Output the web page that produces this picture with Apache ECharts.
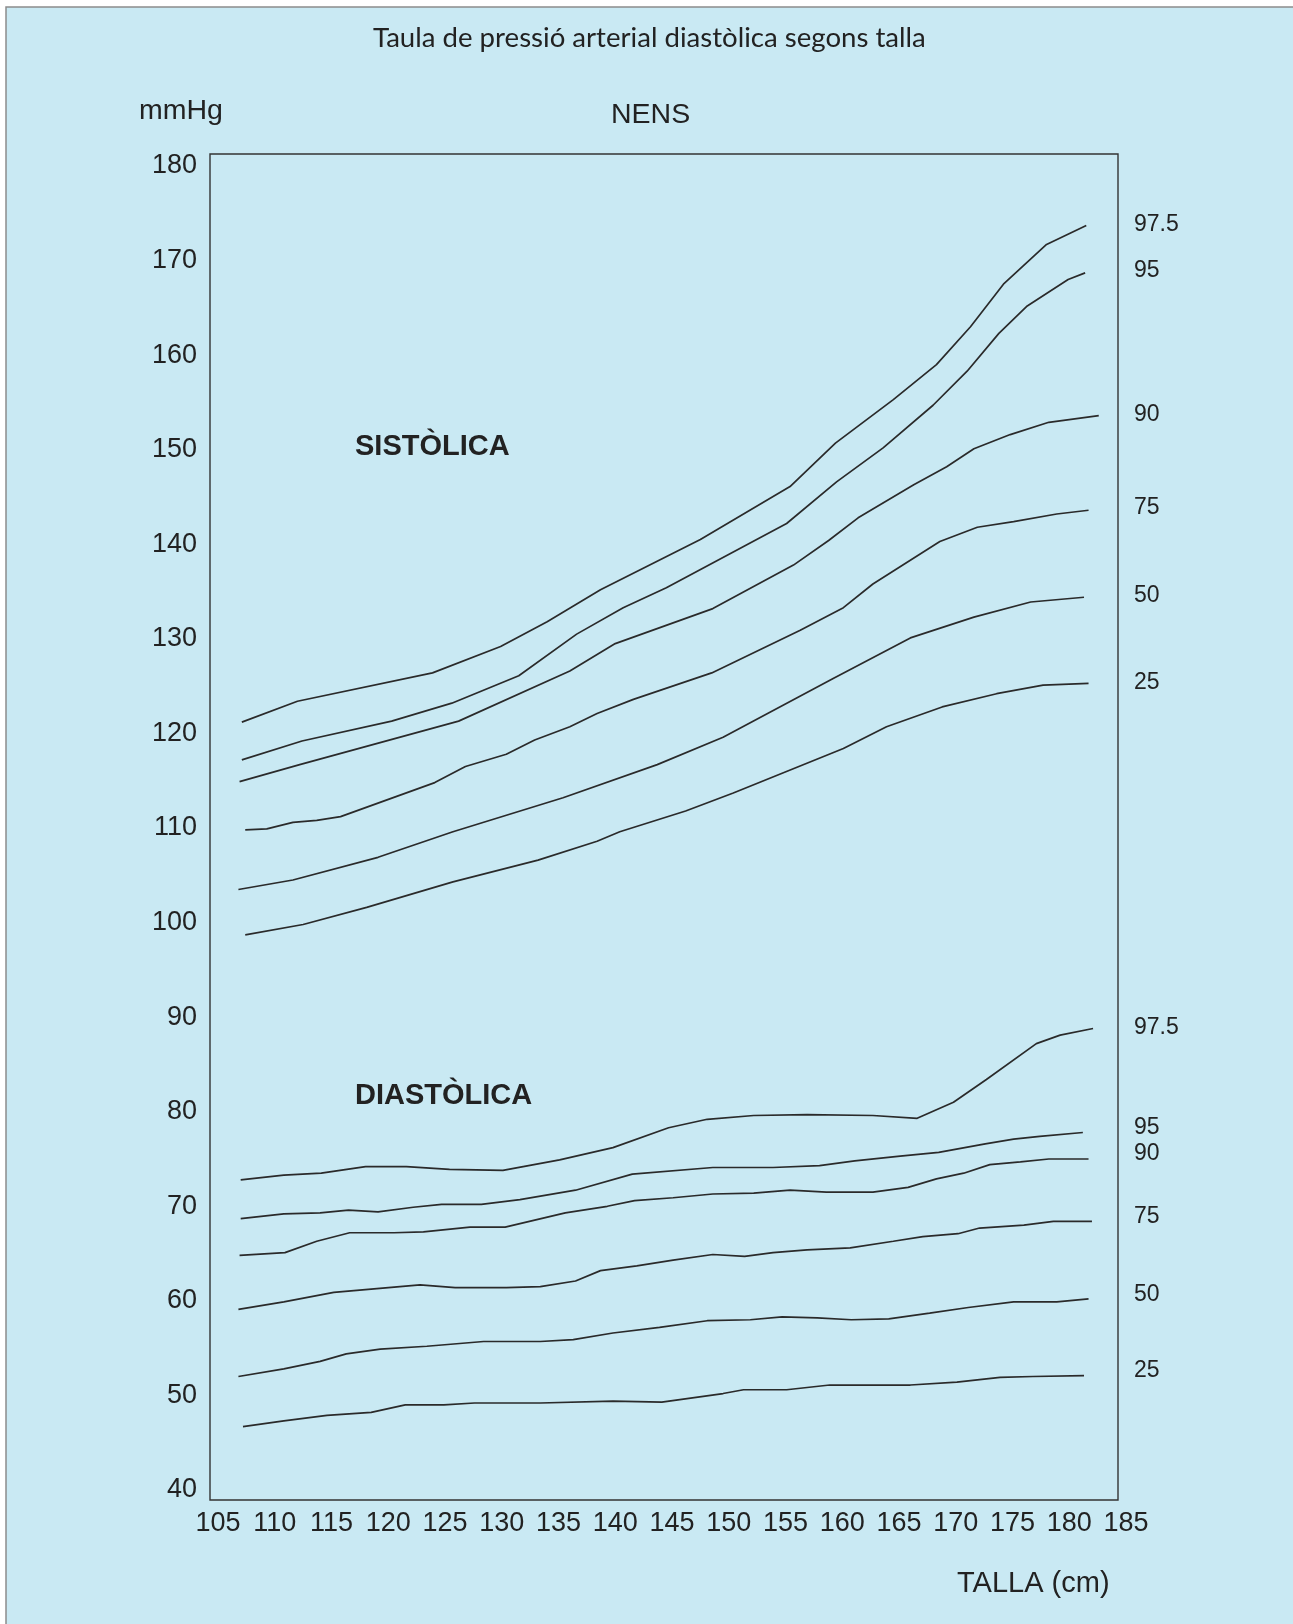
<!DOCTYPE html>
<html><head><meta charset="utf-8">
<script src="https://cdn.jsdelivr.net/npm/echarts@6/dist/echarts.min.js"></script>
<style>html,body{margin:0;padding:0;background:#fff}#c{width:1293px;height:1624px}</style>
</head><body><div id="c"></div>
<script>
// ---- DATA (height in cm, pressure in mmHg) ----
const percentiles = ['97.5', '95', '90', '75', '50', '25'];
const xTicks = [105, 110, 115, 120, 125, 130, 135, 140, 145, 150, 155, 160, 165, 170, 175, 180, 185];
const yTicks = [40, 50, 60, 70, 80, 90, 100, 110, 120, 130, 140, 150, 160, 170, 180];

const sys_975 = [[107.1,121.2],[112.0,123.4],[123.9,126.4],[129.9,129.2],[134.0,131.8],[138.7,135.2],[147.5,140.5],[155.4,146.1],[159.4,150.7],[164.5,155.3],[168.3,159.0],[171.3,163.0],[174.2,167.5],[178.0,171.7],[181.5,173.7]];
const sys_95 = [[107.1,117.2],[112.4,119.2],[120.3,121.3],[125.6,123.2],[131.5,126.1],[136.6,130.5],[140.7,133.3],[144.5,135.4],[155.1,142.2],[159.5,146.6],[163.6,150.2],[168.0,154.7],[171.0,158.3],[173.8,162.3],[176.3,165.2],[179.9,168.0],[181.4,168.7]];
const sys_90 = [[106.9,114.9],[112.2,116.7],[126.2,121.3],[136.0,126.6],[140.0,129.5],[148.6,133.2],[155.7,137.8],[158.8,140.4],[161.4,142.8],[166.3,146.3],[169.2,148.2],[171.6,150.1],[174.8,151.6],[178.2,152.9],[182.6,153.6]];
const sys_75 = [[107.4,109.8],[109.3,109.9],[111.6,110.6],[113.7,110.8],[115.8,111.2],[124.1,114.8],[126.8,116.5],[130.4,117.8],[132.9,119.3],[136.0,120.7],[138.4,122.1],[141.6,123.6],[148.5,126.4],[156.3,130.9],[160.1,133.3],[162.7,135.8],[168.6,140.3],[171.9,141.8],[175.1,142.4],[178.9,143.2],[181.7,143.6]];
const sys_50 = [[106.8,103.5],[111.6,104.5],[119.1,106.9],[125.7,109.6],[135.4,113.2],[143.7,116.7],[149.5,119.6],[159.2,125.8],[166.0,130.1],[171.6,132.3],[176.6,133.9],[181.3,134.4]];
const sys_25 = [[107.4,98.7],[112.5,99.8],[118.1,101.6],[125.7,104.3],[133.2,106.6],[138.4,108.6],[140.4,109.6],[146.2,111.8],[150.4,113.7],[160.1,118.4],[163.9,120.7],[168.8,122.8],[173.6,124.2],[177.7,125.1],[181.7,125.3]];

const dia_975 = [[107.0,72.8],[110.8,73.3],[114.1,73.5],[118.0,74.2],[121.6,74.2],[125.4,73.9],[130.1,73.8],[135.1,74.9],[139.8,76.2],[144.7,78.3],[148.1,79.2],[152.2,79.6],[156.9,79.7],[162.7,79.6],[166.6,79.3],[169.8,81.0],[172.7,83.4],[177.1,87.2],[179.2,88.1],[182.1,88.8]];
const dia_95 = [[107.0,68.7],[110.8,69.2],[114.0,69.3],[116.5,69.6],[119.1,69.4],[122.2,69.9],[124.7,70.2],[128.2,70.2],[131.6,70.7],[136.5,71.7],[141.5,73.4],[148.6,74.1],[153.9,74.1],[158.0,74.3],[161.1,74.8],[165.1,75.3],[168.5,75.7],[172.6,76.6],[175.1,77.1],[177.4,77.4],[181.2,77.8]];
const dia_90 = [[106.9,64.8],[110.9,65.1],[113.7,66.3],[116.6,67.2],[120.5,67.2],[123.1,67.3],[127.2,67.8],[130.3,67.8],[135.6,69.3],[139.3,70.0],[141.7,70.6],[145.1,70.9],[148.6,71.3],[152.2,71.4],[155.4,71.7],[158.6,71.5],[162.7,71.5],[165.8,72.0],[168.3,72.9],[170.7,73.5],[173.0,74.4],[175.7,74.7],[178.2,75.0],[181.7,75.0]];
const dia_75 = [[106.8,59.1],[110.8,59.9],[115.2,60.9],[119.0,61.3],[122.8,61.7],[125.9,61.4],[130.4,61.4],[133.4,61.5],[136.5,62.1],[138.7,63.2],[141.9,63.7],[145.1,64.3],[148.6,64.9],[151.4,64.7],[153.9,65.1],[156.9,65.4],[160.7,65.6],[164.5,66.3],[167.1,66.8],[170.2,67.1],[172.1,67.7],[176.0,68.0],[178.6,68.4],[182.0,68.4]];
const dia_50 = [[106.8,52.0],[110.8,52.8],[114.0,53.6],[116.3,54.4],[119.3,54.9],[123.4,55.2],[128.4,55.7],[133.4,55.7],[136.3,55.9],[139.8,56.6],[143.9,57.2],[148.1,57.9],[151.9,58.0],[154.7,58.3],[157.8,58.2],[160.8,58.0],[164.1,58.1],[167.7,58.7],[171.1,59.3],[175.1,59.9],[178.9,59.9],[181.7,60.2]];
const dia_25 = [[107.2,46.7],[110.8,47.3],[114.6,47.9],[118.5,48.2],[121.5,49.0],[124.9,49.0],[127.6,49.2],[133.4,49.2],[139.8,49.4],[144.1,49.3],[149.5,50.2],[151.3,50.6],[155.1,50.6],[158.9,51.1],[166.0,51.1],[170.1,51.4],[173.9,51.9],[176.8,52.0],[181.3,52.1]];

const sysCurves = [sys_975, sys_95, sys_90, sys_75, sys_50, sys_25];
const diaCurves = [dia_975, dia_95, dia_90, dia_75, dia_50, dia_25];

// ---- STYLE ----
const BG = '#c9e9f3';
const INK = '#222222';
const LINE = '#2a2a2a';
const SANS = "'Liberation Sans', Arial, Helvetica, sans-serif";
const HUMANIST = "Lato, 'Open Sans', sans-serif";
const LABEL_COL_X = 1134;
const sysDy = [-1, -2, -1, -3, -2, -1];
const diaDy = [-1, -5, -5, -5, -4, -5];

const chart = echarts.init(document.getElementById('c'), null, {renderer: 'canvas'});

function mkSeries(group, curves) {
  return curves.map((d, i) => ({
    type: 'line',
    name: group + ' ' + percentiles[i],
    xAxisIndex: 1, yAxisIndex: 1,
    data: d,
    symbol: 'none', showSymbol: false,
    clip: false, silent: true, animation: false,
    lineStyle: {color: LINE, width: 1.7},
    endLabel: {
      show: true, distance: 0,
      formatter: () => percentiles[i],
      color: INK, fontFamily: SANS, fontSize: 23, align: 'left', verticalAlign: 'middle'
    }
  }));
}
const series = mkSeries('Sistòlica', sysCurves).concat(mkSeries('Diastòlica', diaCurves));

function txt(text, left, top, size, weight, family) {
  return {text, left, top, padding: 0,
    textStyle: {color: INK, fontSize: size, fontWeight: weight || 'normal', fontFamily: family || SANS, lineHeight: size}};
}

const option = {
  backgroundColor: '#ffffff',
  animation: false,
  graphic: [{
    type: 'rect', z: -100, silent: true,
    shape: {x: 6, y: 7, width: 1400, height: 1700},
    style: {fill: BG, stroke: '#8c8c8c', lineWidth: 1.5}
  }],
  title: [
    txt('Taula de pressió arterial diastòlica segons talla', 373, 24, 27.6, 'normal', HUMANIST),
    txt('mmHg', 139, 97, 28.5),
    txt('NENS', 611, 101, 28.5),
    txt('SISTÒLICA', 355, 432, 29, 'bold'),
    txt('DIASTÒLICA', 355, 1081, 29, 'bold'),
    txt('TALLA (cm)', 957, 1569, 29)
  ],
  grid: [
    {left: 210, top: 154, width: 908, height: 1346, show: true, borderColor: '#333', borderWidth: 1.4, backgroundColor: 'transparent'},
    {left: 218, top: 166, width: 908, height: 1324, show: false}
  ],
  xAxis: [
    {gridIndex: 0, type: 'value', min: 0, max: 1, show: false},
    {gridIndex: 1, type: 'value', min: xTicks[0], max: xTicks[xTicks.length - 1], interval: 5,
     axisLine: {show: false}, axisTick: {show: false}, splitLine: {show: false},
     axisLabel: {margin: 20, color: INK, fontSize: 27, fontFamily: SANS, lineHeight: 27, showMinLabel: true, showMaxLabel: true}}
  ],
  yAxis: [
    {gridIndex: 0, type: 'value', min: 0, max: 1, show: false},
    {gridIndex: 1, type: 'value', min: yTicks[0], max: yTicks[yTicks.length - 1], interval: 10,
     axisLine: {show: false}, axisTick: {show: false}, splitLine: {show: false},
     axisLabel: {margin: 21, color: INK, fontSize: 27, fontFamily: SANS, showMinLabel: true, showMaxLabel: true}}
  ],
  series
};
chart.setOption(option);

// put the percentile end labels into one column to the right of the frame
const dys = sysDy.concat(diaDy);
const upd = series.map((s, i) => {
  const last = s.data[s.data.length - 1];
  const p = chart.convertToPixel({xAxisIndex: 1, yAxisIndex: 1}, last);
  return {endLabel: {offset: [LABEL_COL_X - p[0], dys[i]]}};
});
chart.setOption({series: upd});
</script></body></html>
